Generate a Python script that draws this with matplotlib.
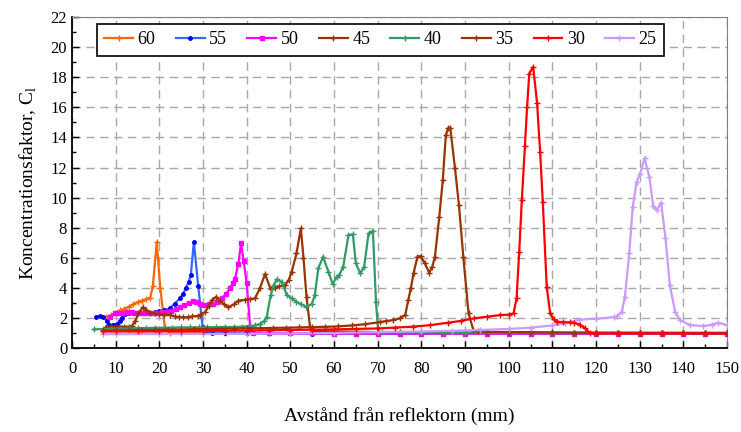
import matplotlib
matplotlib.use('Agg')
import matplotlib.pyplot as plt
from matplotlib.ticker import MultipleLocator

plt.rcParams['font.family'] = ['Liberation Serif', 'DejaVu Serif']
plt.rcParams['mathtext.fontset'] = 'custom'
plt.rcParams['mathtext.rm'] = 'Liberation Serif'

# Avstånd (mm) och koncentrationsfaktor per vinkel
x60 = [7.8, 9, 10, 11, 12, 13, 14, 15, 16, 17, 17.9, 18.5, 19.4, 20.2, 21.3, 22.5,
       25, 30, 35, 40, 45, 50, 55, 60, 65, 70, 75, 80, 85, 90, 95, 100, 105, 110,
       115, 120, 125, 130, 135, 140, 145, 150]
y60 = [2.05, 2.2, 2.35, 2.5, 2.6, 2.75, 2.9, 3.05, 3.15, 3.25, 3.35, 4.1, 7.05, 4.0, 1.3, 1.02,
       1.0, 0.99, 0.99, 0.98, 0.98, 0.98, 0.98, 0.98, 0.97, 0.97, 0.97, 0.97, 0.97, 0.97, 0.97,
       0.97, 0.97, 0.97, 0.97, 0.97, 0.97, 0.97, 0.97, 0.97, 0.97, 0.97]

x55 = [5.5, 6.3, 7.2, 7.9, 8.5, 9.3, 10.2, 10.9, 11.4, 12.1, 13, 14, 15, 16, 17, 18, 19, 20,
       21, 22.4, 23.5, 24.7, 25.4, 26.1, 26.7, 27.2, 27.9, 28.9, 29.9, 30.6,
       32, 35, 40, 45, 50, 55, 60, 65, 70, 75, 80, 85, 90, 95, 100, 105, 110, 115,
       120, 125, 130, 135, 140, 145, 150]
y55 = [2.08, 2.1, 2.08, 1.8, 1.53, 1.55, 1.6, 1.8, 2.0, 2.26, 2.35, 2.35, 2.3, 2.3, 2.3, 2.35,
       2.4, 2.45, 2.5, 2.65, 2.95, 3.3, 3.6, 4.0, 4.4, 4.85, 7.06, 4.1, 1.42, 1.05,
       1.0, 0.99, 0.98, 0.97, 0.97, 0.96, 0.96, 0.96, 0.96, 0.96, 0.96, 0.96, 0.96, 0.96,
       0.96, 0.96, 0.96, 0.96, 0.96, 0.96, 0.96, 0.96, 0.96, 0.96, 0.96]

x50 = [8.7, 9.8, 10.7, 11.7, 12.7, 13.7, 14.7, 15.7, 16.7, 17.7, 18.7, 19.7, 20.7, 21.7,
       22.7, 23.7, 24.7, 25.7, 26.7, 27.8, 28.5, 29.3, 30.3, 31.3, 32.3, 33.3, 34.3, 35.3,
       36.2, 36.8, 37.3, 38.1, 38.7, 39.3, 40.0, 40.8, 41.5,
       45, 50, 55, 60, 65, 70, 75, 80, 85, 90, 95, 100, 105, 110, 115, 120, 125, 130,
       135, 140, 145, 150]
y50 = [2.08, 2.3, 2.35, 2.35, 2.4, 2.4, 2.35, 2.35, 2.3, 2.3, 2.35, 2.35, 2.4, 2.4, 2.45,
       2.6, 2.7, 2.85, 3.0, 3.1, 3.05, 2.9, 2.85, 2.9, 2.9, 3.05, 3.3, 3.6, 4.0, 4.3, 4.6,
       5.6, 6.96, 5.8, 4.3, 1.42, 1.0,
       0.98, 0.97, 0.97, 0.96, 0.96, 0.96, 0.96, 0.96, 0.96, 0.96, 0.96, 0.96, 0.96, 0.96,
       0.96, 0.96, 0.96, 0.96, 0.96, 0.96, 0.96, 0.96]

x45 = [7.8, 9, 10, 11, 12, 13, 13.7, 14.5, 15.2, 16.2, 17, 17.9, 19, 20, 21, 22.4, 23.5,
       24.5, 25.5, 26.5, 27.5, 28.8, 29.3, 30.5, 31.3, 32, 33, 33.9, 34.8, 35.8, 37, 38.1,
       39.5, 40.7, 41.9, 43, 44.2, 45.5, 46.5, 47.5, 48.8, 49.6, 50.3, 51.4, 52.4, 53.0,
       53.7, 54.5, 55.5, 60, 65, 70, 75, 80, 85, 90, 95, 100, 105, 110, 115, 120, 125,
       130, 135, 140, 145, 150]
y45 = [1.42, 1.42, 1.42, 1.42, 1.42, 1.42, 1.45, 1.8, 2.3, 2.7, 2.55, 2.35, 2.3, 2.25, 2.2,
       2.2, 2.1, 2.05, 2.04, 2.05, 2.1, 2.13, 2.19, 2.4, 2.8, 3.19, 3.4, 3.15, 2.9, 2.7,
       2.9, 3.15, 3.2, 3.25, 3.3, 3.96, 4.92, 3.9, 4.0, 4.1, 4.2, 4.5, 5.07, 6.29, 7.95,
       6.0, 3.37, 1.42, 1.15, 1.1, 1.08, 1.06, 1.05, 1.04, 1.03, 1.02, 1.02, 1.01, 1.01,
       1.0, 1.0, 1.0, 1.0, 1.0, 1.0, 1.0, 1.0, 1.0]

x40 = [5.0, 7, 9, 11, 13, 15, 17, 19, 21, 23, 25, 27, 29, 31, 33, 35, 37, 39, 40.5, 42, 43,
       44, 44.6, 45.5, 46.2, 46.9, 48, 49.2, 50.3, 51.4, 52.5, 53.6, 54.9, 55.6, 56.4,
       57.5, 58.7, 59.7, 60.6, 61.2, 62.1, 63.3, 64.3, 65.0, 66.0, 66.9, 67.9, 68.9,
       69.6, 70.1, 71, 75, 80, 85, 90, 95, 100, 105, 110, 115, 120, 125, 130, 135, 140,
       145, 150]
y40 = [1.24, 1.26, 1.28, 1.3, 1.3, 1.32, 1.33, 1.34, 1.35, 1.36, 1.37, 1.37, 1.38, 1.38,
       1.39, 1.4, 1.4, 1.42, 1.45, 1.5, 1.6, 1.8, 2.08, 3.52, 4.2, 4.56, 4.4, 3.52, 3.3,
       3.08, 2.9, 2.75, 2.92, 3.52, 5.3, 6.07, 5.07, 4.25, 4.74, 4.85, 5.4, 7.5, 7.57,
       5.63, 4.96, 5.4, 7.62, 7.8, 3.08, 1.08, 1.05, 1.04, 1.03, 1.03, 1.02, 1.02, 1.01,
       1.01, 1.0, 1.0, 1.0, 1.0, 1.0, 1.0, 1.0, 1.0, 1.0]

x35 = [7, 10, 13, 16, 19, 22, 25, 28, 31, 34, 37, 40, 43, 46, 49, 52, 55, 58, 61, 64, 67,
       70.5, 72, 73.6, 75, 76.3, 77, 77.6, 78.2, 79.1, 79.8, 80.8, 81.8, 82.5, 83.1, 84.1,
       84.9, 85.6, 86.1, 86.6, 87.7, 88.6, 89.6, 90.8, 91.9, 93, 95, 100, 105, 110, 115,
       120, 125, 130, 135, 140, 145, 150]
y35 = [1.15, 1.17, 1.18, 1.2, 1.2, 1.22, 1.23, 1.25, 1.26, 1.28, 1.29, 1.31, 1.32, 1.34,
       1.35, 1.37, 1.39, 1.41, 1.44, 1.5, 1.58, 1.72, 1.8, 1.86, 1.97, 2.19, 3.19, 4.0,
       4.96, 6.07, 6.11, 5.63, 5.0, 5.4, 6.07, 8.72, 11.16, 14.15, 14.6, 14.66, 11.94,
       9.5, 6.07, 2.3, 1.2, 1.1, 1.08, 1.06, 1.05, 1.04, 1.03, 1.02, 1.02, 1.01, 1.01,
       1.0, 1.0, 1.0]

x30 = [7, 10, 15, 20, 25, 30, 35, 40, 45, 50, 55, 60, 65, 70, 74, 78, 82, 86, 89, 92, 95,
       98, 100, 101.1, 101.8, 102.4, 103, 103.7, 104.2, 104.7, 105.6, 106.5, 107.2, 107.8,
       108.7, 109.5, 110.3, 111, 112.5, 114, 115, 116.3, 117.5, 118.6, 120, 125, 130,
       135, 140, 145, 150]
y30 = [1.1, 1.1, 1.1, 1.1, 1.12, 1.13, 1.15, 1.16, 1.18, 1.2, 1.22, 1.24, 1.27, 1.3, 1.36,
       1.42, 1.52, 1.68, 1.8, 1.97, 2.08, 2.19, 2.22, 2.3, 3.3, 6.4, 9.83, 13.4, 16.0,
       18.25, 18.7, 16.26, 13.0, 9.72, 4.07, 2.3, 1.9, 1.75, 1.72, 1.7, 1.68, 1.55, 1.31,
       0.98, 0.97, 0.97, 0.97, 0.97, 0.97, 0.97, 0.97]

x25 = [7, 10, 20, 30, 40, 50, 60, 70, 80, 87, 93.4, 100, 105, 110, 113, 116, 120, 124,
       124.7, 125.9, 126.6, 127.6, 128.4, 129.3, 130.1, 131.1, 132.2, 133.1, 133.9, 134.9,
       135.9, 136.9, 138.1, 139.2, 141.5, 144.6, 146.5, 148, 149.9]
y25 = [0.92, 0.92, 0.93, 0.94, 0.95, 0.97, 1.0, 1.06, 1.1, 1.15, 1.2, 1.27, 1.35, 1.5,
       1.65, 1.88, 1.95, 2.05, 2.1, 2.41, 3.41, 6.29, 9.39, 11.05, 11.6, 12.6, 11.38,
       9.43, 9.17, 9.66, 7.29, 4.19, 2.41, 1.86, 1.53, 1.46, 1.55, 1.68, 1.53]

serier = [
    ('60', x60, y60, '#FF6600', '+', 4),
    ('55', x55, y55, '#3366FF', 'o', 2.5),
    ('50', x50, y50, '#FF00FF', 's', 2.5),
    ('45', x45, y45, '#993300', '+', 4),
    ('40', x40, y40, '#339966', '+', 4),
    ('35', x35, y35, '#993300', '+', 4),
    ('30', x30, y30, '#FF0000', '+', 4),
    ('25', x25, y25, '#CC99FF', '+', 4),
]

fig = plt.figure(figsize=(7.41, 4.32), dpi=100)
ax = fig.add_axes([0.0972, 0.1944, 0.884, 0.766])

for i, (namn, xs, ys, farg, mk, ms) in enumerate(serier):
    z = 5 if namn == '30' else 3
    mfc = '#0000FF' if namn == '55' else farg
    ax.plot(xs, ys, color=farg, marker=mk, markersize=ms, markerfacecolor=mfc,
            markeredgecolor=mfc, markeredgewidth=1.0, linewidth=1.6, label=namn, zorder=z)

ax.set_xlim(0, 150)
ax.set_ylim(0, 22)
ax.xaxis.set_major_locator(MultipleLocator(10))
ax.xaxis.set_minor_locator(MultipleLocator(5))
ax.yaxis.set_major_locator(MultipleLocator(2))
ax.yaxis.set_minor_locator(MultipleLocator(1))
ax.tick_params(which='both', direction='in', labelsize=12, width=1.0)
ax.tick_params(which='major', length=5)
ax.tick_params(which='minor', length=3)
ax.tick_params(axis='x', pad=9)
ax.grid(True, which='major', linestyle=(0, (6, 4)), color='#A8A8A8', linewidth=1.0)
ax.set_axisbelow(True)

for s in ['left', 'bottom']:
    ax.spines[s].set_linewidth(1.3)
for s in ['top', 'right']:
    ax.spines[s].set_color('#808080')

ax.set_xlabel('Avstånd från reflektorn (mm)', fontsize=14, labelpad=22)
ax.set_ylabel('Koncentrationsfaktor, C$_\\mathregular{l}$', fontsize=14, labelpad=8)

leg = ax.legend(ncol=8, loc='upper left', bbox_to_anchor=(0.038, 0.979), fontsize=13,
                frameon=True, fancybox=False, edgecolor='black', framealpha=1,
                handlelength=1.6, handletextpad=0.25, columnspacing=1.12,
                borderpad=0.4, borderaxespad=0, numpoints=1)
leg.get_frame().set_linewidth(1.2)
leg.set_zorder(10)

fig.savefig('out.png', dpi=100)
